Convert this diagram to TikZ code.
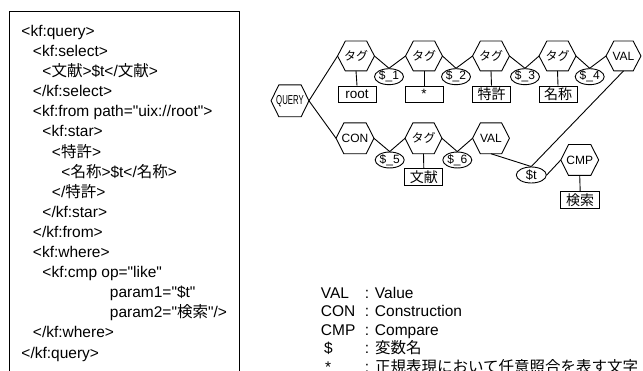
\documentclass[tikz,border=0pt]{standalone}
\usepackage{fontspec}
\usepackage{graphicx}
\setmainfont{Liberation Sans}[Ligatures=TeXOff]
\newfontfamily\jp{Noto Sans CJK JP}
\usetikzlibrary{shapes.geometric}
\begin{document}
\begin{tikzpicture}[x=1pt,y=-1pt, line width=0.9pt,
 hexa/.style={minimum width=36pt, minimum height=29pt, inner sep=0pt, font=\fontsize{12}{12}\selectfont,
   append after command={\pgfextra{\let\hexnode\tikzlastnode
     \draw[line width=0.9pt] ([xshift=7.8pt]\hexnode.north west) -- ([xshift=-7.8pt]\hexnode.north east) -- (\hexnode.east) -- ([xshift=-7.8pt]\hexnode.south east) -- ([xshift=7.8pt]\hexnode.south west) -- (\hexnode.west) -- cycle;}}},
 varel/.style={draw, ellipse, minimum width=29pt, minimum height=13.5pt, inner sep=0pt, font=\fontsize{12}{12}\selectfont},
 valbox/.style={draw, rectangle, minimum width=38pt, minimum height=16pt, inner sep=0pt, font=\fontsize{13.5}{13.5}\selectfont},
 codeline/.style={anchor=base west, inner sep=0pt, font=\fontsize{15.5}{15.5}\selectfont},
 legend/.style={anchor=base west, inner sep=0pt, font=\fontsize{15.5}{15.5}\selectfont},
 link/.style={line width=0.9pt}]
\useasboundingbox (0,0) rectangle (643,371);
% code box
\draw[line width=1.3pt] (9.5,371) -- (9.5,11.5) -- (239.5,11.5) -- (239.5,371);
\node[codeline] (c0)  at (21,36.5)    {<kf:query>};
\node[codeline] (c1)  at (32.5,56.6) {<kf:select>};
\node[codeline] (c2)  at (42,76.7)  {<{\jp 文献}>\$t</{\jp 文献}>};
\node[codeline] (c3)  at (32.5,96.8) {</kf:select>};
\node[codeline] (c4)  at (32.5,116.9) {<kf:from path="uix://root">};
\node[codeline] (c5)  at (42,137) {<kf:star>};
\node[codeline] (c6)  at (51.5,157.1) {<{\jp 特許}>};
\node[codeline] (c7)  at (61,177.2) {<{\jp 名称}>\$t</{\jp 名称}>};
\node[codeline] (c8)  at (51.5,197.3) {</{\jp 特許}>};
\node[codeline] (c9)  at (42,217.4) {</kf:star>};
\node[codeline] (c10) at (32.5,237.5)  {</kf:from>};
\node[codeline] (c11) at (32.5,257.6) {<kf:where>};
\node[codeline] (c12) at (42,277.7) {<kf:cmp op="like"};
\node[codeline] (c13) at (109.5,297.8) {param1="\$t"};
\node[codeline] (c14) at (109.5,317.9) {param2="{\jp 検索}"/>};
\node[codeline] (c15) at (32.5,338)  {</kf:where>};
\node[codeline] (c16) at (21,358.1) {</kf:query>};
% diagram nodes
\node[hexa, minimum width=37pt, minimum height=31pt] (q) at (290,100.8) {\fontsize{13}{13}\selectfont\scalebox{0.6}[1]{QUERY}};
\node[hexa] (t1) at (356,56) {\jp タグ};
\node[hexa] (t2) at (424,56) {\jp タグ};
\node[hexa] (t3) at (491,56) {\jp タグ};
\node[hexa] (t4) at (557.5,56) {\jp タグ};
\node[hexa, minimum width=34pt] (v1) at (623.5,56) {VAL};
\node[varel] (s1) at (389,76.7) {\$\_1};
\node[varel] (s2) at (456,76.7) {\$\_2};
\node[varel] (s3) at (525,76.7) {\$\_3};
\node[varel] (s4) at (589.7,76.7) {\$\_4};
\node[valbox] (b1) at (357,94) {root};
\node[valbox] (b2) at (424,94) {*};
\node[valbox] (b3) at (491.5,94) {\jp\fontsize{14}{14}\selectfont 特許};
\node[valbox] (b4) at (558,94) {\jp\fontsize{14}{14}\selectfont 名称};
\node[hexa, minimum width=37pt, minimum height=30pt] (con) at (355,138.3) {CON};
\node[varel] (s5) at (389.7,160) {\$\_5};
\node[hexa, minimum height=30pt] (t5) at (423.5,138.3) {\jp タグ};
\node[varel] (s6) at (457.3,160) {\$\_6};
\node[hexa, minimum height=30pt] (v2) at (491,138.3) {VAL};
\node[valbox, minimum height=16.7pt] (b5) at (423.8,176.7) {\jp\fontsize{14}{14}\selectfont 文献};
\node[varel, minimum width=30pt, minimum height=16pt, font=\fontsize{13}{13}\selectfont] (st) at (531.3,175) {\$t};
\node[hexa, minimum width=37pt, minimum height=30pt] (cmp) at (579.7,160) {CMP};
\node[valbox, minimum width=39pt, minimum height=16.7pt] (b6) at (580.2,200) {\jp\fontsize{14}{14}\selectfont 検索};
% connectors
\draw[link] (q.east) -- (t1.west);
\draw[link] (t1.east) -- (s1.north) -- (t2.west);
\draw[link] (t2.east) -- (s2.north) -- (t3.west);
\draw[link] (t3.east) -- (s3.north) -- (t4.west);
\draw[link] (t4.east) -- (s4.north) -- (v1.west);
\draw[link] (t1.south) -- (b1.north);
\draw[link] (t2.south) -- (b2.north);
\draw[link] (t3.south) -- (b3.north);
\draw[link] (t4.south) -- (b4.north);
\draw[link] (q.east) -- (con.west);
\draw[link] (con.east) -- (s5.north) -- (t5.west);
\draw[link] (t5.east) -- (s6.north) -- (v2.west);
\draw[link] (t5.south) -- (b5.north);
\draw[link] (v2.south) -- (st.north);
\draw[link] (st.north) -- (v1.south);
\draw[link] (st.east) -- (cmp.west);
\draw[link] (cmp.south) -- (b6.north);
% legend
\node[legend] (l1) at (320.5,298.5) {VAL};
\node[legend] (l1d) at (364.5,298.5) {: Value};
\node[legend] (l2) at (320.5,317) {CON};
\node[legend] (l2d) at (364.5,317) {: Construction};
\node[legend] (l3) at (320.5,335.5) {CMP};
\node[legend] (l3d) at (364.5,335.5) {: Compare};
\node[legend] (l4) at (323.7,354) {\$};
\node[legend] (l4d) at (364.5,354) {: {\jp 変数名}};
\node[legend] (l5) at (324.7,373) {*};
\node[legend] (l5d) at (364.5,373) {: {\jp 正規表現において任意照合を表す文字}};
\end{tikzpicture}
\end{document}
